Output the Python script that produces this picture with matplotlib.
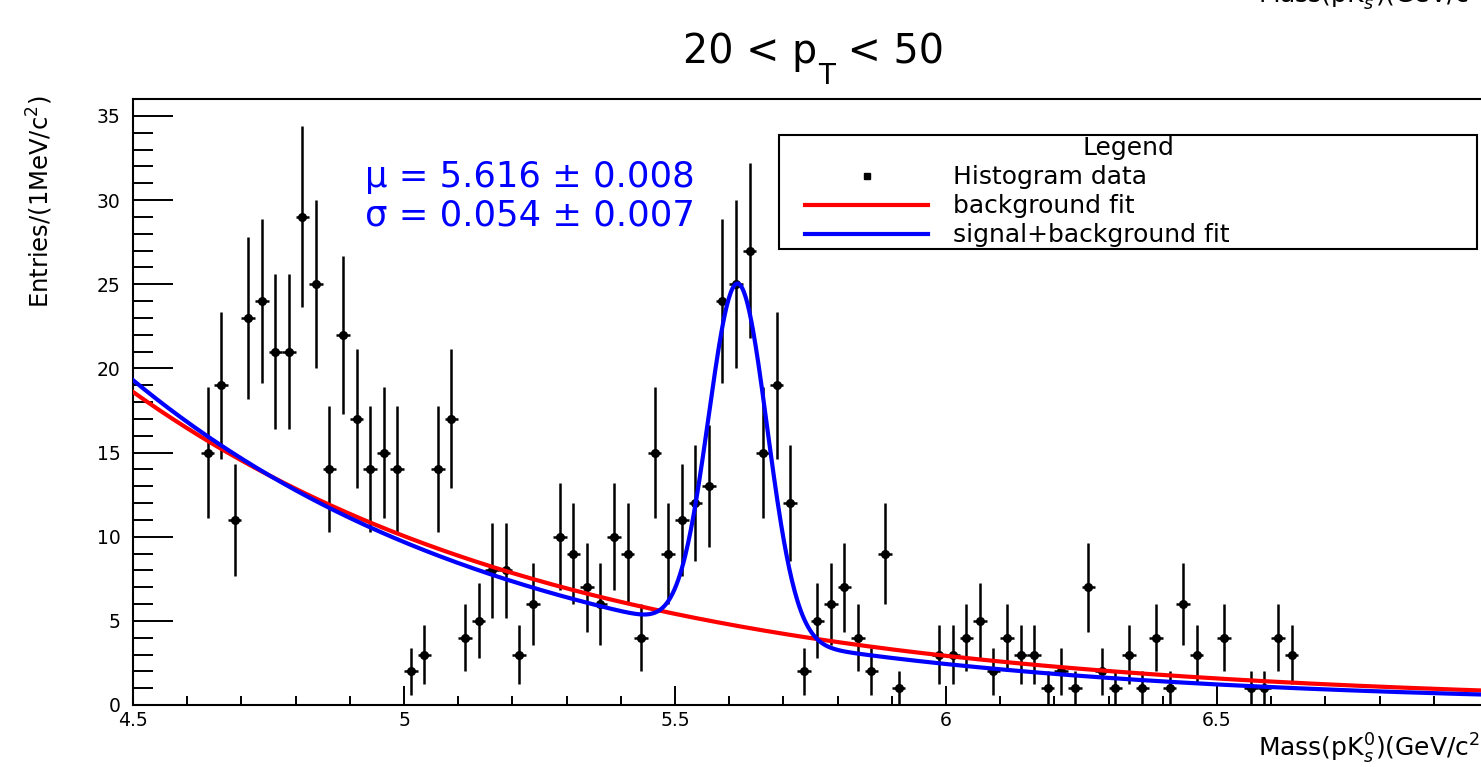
import matplotlib
matplotlib.use('Agg')
import matplotlib.pyplot as plt
from matplotlib.lines import Line2D
from matplotlib.legend_handler import HandlerLine2D
import numpy as np

# bin centres (GeV/c^2) and entries
mass = [4.6375, 4.6625, 4.6875, 4.7125, 4.7375, 4.7625, 4.7875, 4.8125, 4.8375, 4.8625,
        4.8875, 4.9125, 4.9375, 4.9625, 4.9875, 5.0125, 5.0375, 5.0625, 5.0875, 5.1125,
        5.1375, 5.1625, 5.1875, 5.2125, 5.2375, 5.2875, 5.3125, 5.3375, 5.3625, 5.3875,
        5.4125, 5.4375, 5.4625, 5.4875, 5.5125, 5.5375, 5.5625, 5.5875, 5.6125, 5.6375,
        5.6625, 5.6875, 5.7125, 5.7375, 5.7625, 5.7875, 5.8125, 5.8375, 5.8625, 5.8875,
        5.9125, 5.9875, 6.0125, 6.0375, 6.0625, 6.0875, 6.1125, 6.1375, 6.1625, 6.1875,
        6.2125, 6.2375, 6.2625, 6.2875, 6.3125, 6.3375, 6.3625, 6.3875, 6.4125, 6.4375,
        6.4625, 6.5125, 6.5625, 6.5875, 6.6125, 6.6375]
entries = [15, 19, 11, 23, 24, 21, 21, 29, 25, 14,
           22, 17, 14, 15, 14, 2, 3, 14, 17, 4,
           5, 8, 8, 3, 6, 10, 9, 7, 6, 10,
           9, 4, 15, 9, 11, 12, 13, 24, 25, 27,
           15, 19, 12, 2, 5, 6, 7, 4, 2, 9,
           1, 3, 3, 4, 5, 2, 4, 3, 3, 1,
           2, 1, 7, 2, 1, 3, 1, 4, 1, 6,
           3, 4, 1, 1, 4, 3]
bin_width = 0.025

# fit parameters (exponential background, gaussian signal)
bkg_norm, bkg_slope = 18.6, 1.234
sb_norm, sb_slope = 19.3, 1.38
sig_amp, sig_mu, sig_sigma = 20.9, 5.616, 0.054
mu_err, sigma_err = 0.008, 0.007
x_min, x_max = 4.5, 7.0

#helpers for the two fit functions
def background(x):
        return bkg_norm * np.exp(-bkg_slope * (x - x_min))

def signalPlusBackground(x):
        bkg = sb_norm * np.exp(-sb_slope * (x - x_min))
        return bkg + sig_amp * np.exp(-0.5 * ((x - sig_mu) / sig_sigma) ** 2)

W, H = 1481, 767
fig = plt.figure(figsize=(W / 100, H / 100), dpi=100)
ax = fig.add_axes([133 / W, 62 / H, (1488 - 133) / W, (705 - 99) / H])

entries = np.array(entries)
ax.errorbar(mass, entries, yerr=np.sqrt(entries), xerr=bin_width / 2, fmt='o',
            color='black', ms=5.5, elinewidth=1.8, capsize=0, zorder=2)

xs = np.linspace(x_min, x_max, 1500)
ax.plot(xs, background(xs), color='#ff0000', lw=3.0, zorder=3)
ax.plot(xs, signalPlusBackground(xs), color='#0000ff', lw=3.0, zorder=4)

ax.set_xlim(x_min, x_max)
ax.set_ylim(0, 36)
ax.set_xticks([4.5, 5, 5.5, 6, 6.5])
ax.set_xticklabels(['4.5', '5', '5.5', '6', '6.5'])
ax.set_xticks(np.arange(4.6, 7.0, 0.1), minor=True)
ax.set_yticks(np.arange(0, 36, 5))
ax.set_yticks(np.arange(0, 36, 1), minor=True)
ax.tick_params(axis='both', which='both', direction='in', top=False, right=False,
               width=1.4, labelsize=13.5)
ax.tick_params(axis='y', which='major', length=29, pad=9)
ax.tick_params(axis='y', which='minor', length=14.5)
ax.tick_params(axis='x', which='major', length=14, pad=4)
ax.tick_params(axis='x', which='minor', length=6.5)
for side in ['left', 'bottom', 'top']:
        ax.spines[side].set_linewidth(1.5)
ax.spines['right'].set_visible(False)

#title, built in pieces so the T subscript hangs low like ROOT draws it
t1 = fig.text(683 / W, 1 - 63 / H, '20 < p', ha='left', va='baseline', fontsize=28.5)
t2 = ax.annotate('T', xy=(1, 0), xycoords=t1, xytext=(0.5, 7), textcoords='offset points',
                 ha='left', va='top', fontsize=20)
t3 = ax.annotate(' < 50', xy=(1, 0), xycoords=(t2, t1), xytext=(0, 0), textcoords='offset points',
                 ha='left', va='bottom', fontsize=28.5)

fig.text(40 / W, 1 - 95 / H, r'Entries/(1MeV/c$^{2}$)', rotation=90, ha='center', va='top', fontsize=17.5)
fig.text(1258 / W, 1 - 757 / H, r'Mass(pK$^{0}_{s}$)(GeV/c$^{2}$)', ha='left', va='baseline', fontsize=18)
fig.text(1258 / W, 1 - 4 / H, r'Mass(pK$^{0}_{s}$)(GeV/c$^{2}$)', ha='left', va='baseline', fontsize=18)

#fit results
fig.text(365 / W, 1 - 187 / H, u'\u03bc = %.3f \u00b1 %.3f' % (sig_mu, mu_err), color='#0000ff',
         ha='left', va='baseline', fontsize=25.5)
fig.text(365 / W, 1 - 226 / H, u'\u03c3 = %.3f \u00b1 %.3f' % (sig_sigma, sigma_err), color='#0000ff',
         ha='left', va='baseline', fontsize=25.5)

handles = [Line2D([], [], color='black', marker='s', ms=4, ls='none'),
           Line2D([], [], color='#ff0000', lw=3.0),
           Line2D([], [], color='#0000ff', lw=3.0)]
labels = ['Histogram data', 'background fit', 'signal+background fit']
leg = ax.legend(handles, labels, title='Legend', loc='upper left',
                bbox_to_anchor=(779 / W, 1 - 248 / H, (1477 - 779) / W, (248 - 135) / H),
                bbox_transform=fig.transFigure, mode='expand', fontsize=18, title_fontsize=18,
                handlelength=5.9, handletextpad=1.0, labelspacing=0.2, borderpad=0.05,
                borderaxespad=0, fancybox=False, framealpha=1, edgecolor='black',
                handler_map={Line2D: HandlerLine2D(xpad=1.0)})
leg.get_frame().set_linewidth(1.5)

fig.savefig('out.png', dpi=100)
